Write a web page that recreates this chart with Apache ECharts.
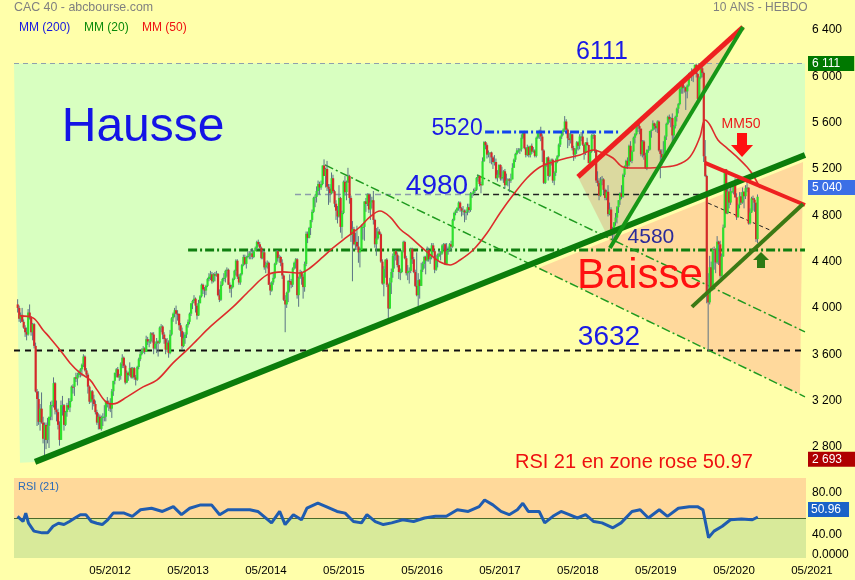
<!DOCTYPE html>
<html><head><meta charset="utf-8">
<script src="https://cdn.jsdelivr.net/npm/echarts@6/dist/echarts.min.js"></script>
<style>html,body{margin:0;padding:0;background:#FFFFAA;}#c{width:855px;height:580px;}</style>
</head><body><div id="c"></div>
<script>
// ---------- DATA ----------
const firstWeek = '2011-05-09';
// weekly candles [open, high, low, close]
const y2011 = [[4030,4075,3960,4000],[4000,4020,3880,3906],[3906,3960,3870,3940],[3940,4000,3880,3880],[3880,3900,3820,3830],[3830,3850,3750,3790],[3790,3830,3720,3770],[3770,3990,3760,3960],[3960,4030,3900,3920],[3920,3930,3760,3790],[3790,3870,3720,3860],[3860,3870,3650,3672],[3672,3700,3270,3278],[3278,3300,2980,3213],[3213,3280,2990,3016],[3016,3170,2940,3130],[3130,3270,3000,3010],[3010,3060,2830,2870],[2870,3010,2693,2990],[2990,3010,2780,2860],[2860,3050,2830,2982],[2982,3060,2790,3060],[3060,3190,3030,3160],[3160,3200,3030,3160],[3160,3400,3140,3350],[3350,3360,3080,3120],[3120,3200,3020,3100],[3100,3130,2950,2990],[2990,3020,2810,2860],[2860,3200,2860,3160],[3160,3240,3070,3160],[3160,3170,2940,2990],[2990,3110,2980,3100],[3100,3180,3060,3160]];
const y2012 = [[3160,3220,3120,3140],[3140,3220,3100,3196],[3196,3330,3190,3320],[3320,3340,3260,3318],[3318,3400,3240,3400],[3400,3440,3360,3390],[3390,3440,3330,3420],[3420,3460,3400,3450],[3450,3480,3400,3470],[3470,3520,3410,3510],[3510,3600,3490,3580],[3580,3590,3450,3460],[3460,3480,3400,3424],[3424,3440,3260,3320],[3320,3330,3170,3190],[3190,3290,3180,3280],[3280,3290,3120,3210],[3210,3250,3150,3170],[3170,3200,3080,3100],[3100,3120,2990,3010],[3010,3090,2950,3060],[3060,3080,2950,2955],[2955,3070,2940,3050],[3050,3090,2980,3060],[3060,3160,3020,3060],[3060,3200,3020,3197],[3197,3230,3140,3170],[3170,3200,3110,3180],[3180,3220,3100,3130],[3130,3300,3050,3280],[3280,3370,3240,3370],[3370,3440,3340,3440],[3440,3480,3400,3470],[3470,3490,3400,3400],[3400,3430,3370,3414],[3414,3530,3380,3520],[3520,3600,3480,3570],[3570,3580,3480,3500],[3500,3510,3340,3355],[3355,3460,3350,3440],[3440,3450,3370,3420],[3420,3530,3410,3480],[3480,3490,3390,3400],[3400,3490,3390,3480],[3480,3490,3380,3400],[3400,3420,3330,3380],[3380,3500,3370,3490],[3490,3570,3470,3557],[3557,3620,3540,3600],[3600,3650,3590,3630],[3630,3670,3610,3650],[3650,3660,3600,3620],[3620,3760,3620,3730]];
const y2013 = [[3730,3750,3680,3710],[3710,3730,3660,3710],[3710,3790,3690,3780],[3780,3790,3700,3770],[3770,3790,3600,3650],[3650,3710,3640,3690],[3690,3740,3610,3710],[3710,3720,3580,3700],[3700,3840,3690,3830],[3830,3860,3790,3840],[3840,3850,3730,3770],[3770,3790,3690,3731],[3731,3740,3600,3640],[3640,3740,3620,3700],[3700,3720,3570,3610],[3610,3810,3600,3770],[3770,3920,3760,3910],[3910,3960,3880,3950],[3950,4000,3920,3980],[3980,4020,3860,3950],[3950,3980,3890,3949],[3949,3950,3810,3850],[3850,3870,3750,3800],[3800,3830,3640,3670],[3670,3790,3660,3739],[3739,3790,3690,3770],[3770,3860,3740,3850],[3850,3900,3830,3880],[3880,3960,3860,3950],[3950,4040,3930,4040],[4040,4070,3990,4060],[4060,4110,4040,4080],[4080,4090,3960,4020],[4020,4040,3900,3934],[3934,4070,3930,4040],[4040,4110,4040,4100],[4100,4210,4090,4200],[4200,4210,4120,4160],[4160,4180,4090,4150],[4150,4200,4110,4190],[4190,4260,4180,4250],[4250,4300,4230,4270],[4270,4320,4240,4290],[4290,4310,4210,4230],[4230,4300,4220,4290],[4290,4310,4230,4280],[4280,4320,4270,4295],[4295,4300,4100,4110],[4110,4160,4050,4070],[4070,4230,4060,4200],[4200,4260,4190,4250],[4250,4300,4230,4260]];
const y2014 = [[4260,4330,4220,4320],[4320,4350,4270,4330],[4330,4340,4200,4200],[4200,4220,4130,4166],[4166,4200,4090,4180],[4180,4260,4170,4250],[4250,4330,4240,4320],[4320,4420,4280,4408],[4408,4420,4250,4270],[4270,4290,4200,4220],[4220,4300,4200,4290],[4290,4380,4280,4370],[4370,4460,4360,4440],[4440,4460,4370,4380],[4380,4450,4340,4440],[4440,4490,4430,4450],[4450,4490,4420,4470],[4470,4510,4420,4470],[4470,4510,4420,4440],[4440,4500,4430,4490],[4490,4530,4490,4519],[4519,4580,4500,4570],[4570,4590,4530,4550],[4550,4570,4510,4520],[4520,4530,4420,4430],[4430,4500,4420,4480],[4480,4490,4330,4350],[4350,4400,4300,4370],[4370,4410,4340,4390],[4390,4400,4200,4200],[4200,4220,4110,4150],[4150,4230,4140,4220],[4220,4300,4200,4260],[4260,4390,4250,4381],[4381,4500,4370,4490],[4490,4500,4400,4430],[4430,4460,4390,4440],[4440,4450,4360,4390],[4390,4420,4250,4280],[4280,4290,4060,4070],[4070,4110,3790,4030],[4030,4140,4000,4130],[4130,4240,4050,4233],[4233,4290,4140,4230],[4230,4250,4170,4200],[4200,4350,4180,4340],[4340,4400,4330,4390],[4390,4430,4340,4420],[4420,4430,4080,4110],[4110,4270,4010,4260],[4260,4330,4250,4310],[4310,4320,4200,4270]];
const y2015 = [[4270,4290,4080,4180],[4180,4400,4140,4380],[4380,4660,4360,4640],[4640,4660,4560,4605],[4605,4700,4600,4690],[4690,4760,4630,4760],[4760,4850,4740,4830],[4830,4960,4820,4951],[4951,4980,4870,4960],[4960,5050,4910,5010],[5010,5100,4980,5070],[5070,5090,4980,5040],[5040,5100,5020,5070],[5070,5230,5060,5230],[5230,5283,5140,5140],[5140,5210,5040,5200],[5200,5270,5010,5046],[5046,5070,4890,5030],[5030,5070,4910,4990],[4990,5170,4980,5120],[5120,5150,4990,5008],[5008,5020,4870,4900],[4900,4930,4760,4840],[4840,4880,4730,4790],[4790,5060,4780,4950],[4950,4960,4650,4700],[4700,4840,4600,4820],[4820,5100,4810,5090],[5090,5140,4970,5000],[5000,5100,4930,5083],[5083,5210,5080,5140],[5140,5150,4900,4950],[4950,4970,4570,4630],[4630,4750,4230,4680],[4680,4700,4540,4550],[4550,4650,4500,4570],[4570,4710,4500,4530],[4530,4620,4390,4480],[4480,4520,4350,4500],[4500,4720,4500,4700],[4700,4720,4590,4700],[4700,4920,4580,4920],[4920,4950,4830,4898],[4898,4990,4880,4980],[4980,4990,4820,4850],[4850,4980,4760,4910],[4910,4960,4860,4930],[4930,5010,4720,4760],[4760,4770,4520,4550],[4550,4690,4450,4600],[4600,4700,4590,4660],[4660,4680,4630,4637]];
const y2016 = [[4637,4650,4390,4400],[4400,4420,4200,4210],[4210,4360,4100,4340],[4340,4420,4260,4417],[4417,4430,4180,4200],[4200,4210,3890,3995],[3995,4260,3990,4220],[4220,4340,4120,4310],[4310,4470,4260,4450],[4450,4490,4340,4490],[4490,4500,4410,4460],[4460,4480,4350,4370],[4370,4450,4250,4310],[4310,4340,4240,4310],[4310,4500,4300,4490],[4490,4580,4480,4570],[4570,4580,4420,4429],[4429,4450,4280,4300],[4300,4370,4240,4320],[4320,4350,4210,4320],[4320,4520,4300,4510],[4510,4520,4380,4420],[4420,4440,4300,4310],[4310,4330,4180,4190],[4190,4480,4100,4110],[4110,4300,3960,4240],[4240,4250,4080,4190],[4190,4390,4190,4330],[4330,4400,4310,4380],[4380,4450,4340,4440],[4440,4450,4290,4410],[4410,4530,4400,4500],[4500,4520,4400,4420],[4420,4450,4380,4440],[4440,4560,4420,4540],[4540,4560,4480,4490],[4490,4500,4300,4330],[4330,4460,4320,4410],[4410,4470,4350,4448],[4448,4500,4440,4470],[4470,4490,4410,4470],[4470,4550,4460,4540],[4540,4560,4500,4550],[4550,4560,4370,4380],[4380,4560,4370,4490],[4490,4530,4460,4500],[4500,4560,4490,4550],[4550,4580,4490,4530],[4530,4770,4520,4760],[4760,4830,4750,4820],[4820,4850,4800,4840],[4840,4870,4820,4862]];
const y2017 = [[4862,4920,4840,4910],[4910,4920,4830,4860],[4860,4870,4790,4840],[4840,4880,4800,4840],[4840,4850,4740,4825],[4825,4850,4760,4830],[4830,4900,4800,4870],[4870,4900,4820,4845],[4845,5000,4830,4990],[4990,5000,4950,4990],[4990,5030,4970,5010],[5010,5040,4990,5020],[5020,5130,5010,5123],[5123,5150,5090,5140],[5140,5140,5050,5070],[5070,5090,4990,5059],[5059,5300,5059,5267],[5267,5440,5260,5432],[5432,5440,5370,5406],[5406,5420,5290,5324],[5324,5360,5300,5336],[5336,5340,5250,5343],[5343,5350,5240,5300],[5300,5310,5200,5260],[5260,5320,5230,5260],[5260,5290,5110,5121],[5121,5190,5090,5150],[5150,5240,5130,5235],[5235,5240,5100,5117],[5117,5220,5100,5131],[5131,5190,5080,5180],[5180,5200,5030,5060],[5060,5160,5060,5100],[5100,5120,5050,5110],[5110,5120,5000,5100],[5100,5160,5080,5110],[5110,5250,5110,5210],[5210,5290,5210,5280],[5280,5340,5260,5330],[5330,5380,5320,5360],[5360,5380,5340,5360],[5360,5380,5330,5370],[5370,5500,5350,5470],[5470,5520,5460,5510],[5510,5530,5370,5380],[5380,5390,5300,5320],[5320,5410,5310,5390],[5390,5400,5300,5320],[5320,5400,5300,5400],[5400,5420,5330,5350],[5350,5390,5340,5360],[5360,5370,5300,5313]];
const y2018 = [[5313,5480,5300,5470],[5470,5530,5460,5520],[5520,5540,5460,5530],[5530,5565,5440,5480],[5480,5500,5260,5360],[5360,5370,5070,5080],[5080,5250,5070,5240],[5240,5300,5220,5300],[5300,5310,5100,5140],[5140,5280,5130,5270],[5270,5290,5230,5280],[5280,5290,5080,5100],[5100,5180,5060,5167],[5167,5290,5140,5260],[5260,5320,5250,5310],[5310,5420,5300,5410],[5410,5490,5390,5480],[5480,5530,5460,5520],[5520,5550,5490,5540],[5540,5657,5520,5610],[5610,5630,5500,5540],[5540,5550,5380,5465],[5465,5510,5400,5450],[5450,5520,5420,5500],[5500,5500,5360,5380],[5380,5400,5270,5324],[5324,5380,5290,5370],[5370,5440,5330,5430],[5430,5440,5360,5400],[5400,5500,5370,5480],[5480,5520,5440,5480],[5480,5520,5400,5410],[5410,5420,5280,5340],[5340,5430,5320,5430],[5430,5470,5400,5407],[5407,5410,5250,5250],[5250,5360,5240,5350],[5350,5500,5340,5490],[5490,5520,5460,5493],[5493,5500,5340,5360],[5360,5370,5080,5100],[5100,5180,5050,5080],[5080,5120,4930,4970],[4970,5130,4960,5100],[5100,5140,5060,5110],[5110,5120,4980,5020],[5020,5030,4930,4950],[4950,5020,4930,5003],[5003,5060,4790,4810],[4810,4910,4800,4850],[4850,4870,4620,4640],[4640,4700,4555,4680],[4680,4740,4600,4740]];
const y2019 = [[4740,4820,4710,4780],[4780,4880,4730,4870],[4870,4930,4820,4930],[4930,5000,4890,4990],[4990,5060,4940,4960],[4960,5160,4950,5150],[5150,5230,5130,5220],[5220,5280,5200,5270],[5270,5300,5200,5230],[5230,5410,5220,5400],[5400,5440,5260,5270],[5270,5360,5250,5351],[5351,5480,5350,5470],[5470,5510,5420,5500],[5500,5580,5490,5580],[5580,5590,5520,5570],[5570,5590,5500,5548],[5548,5550,5310,5327],[5327,5450,5300,5438],[5438,5450,5280,5316],[5316,5340,5200,5208],[5208,5370,5190,5364],[5364,5400,5340,5367],[5367,5530,5360,5528],[5528,5540,5470,5539],[5539,5620,5530,5594],[5594,5600,5540,5572],[5572,5590,5520,5552],[5552,5620,5510,5610],[5610,5620,5350,5360],[5360,5370,5120,5330],[5330,5370,5230,5300],[5300,5440,5290,5330],[5330,5490,5320,5480],[5480,5600,5450,5590],[5590,5660,5580,5650],[5650,5670,5600,5630],[5630,5650,5560,5640],[5640,5680,5410,5490],[5490,5580,5420,5570],[5570,5660,5550,5650],[5650,5730,5610,5720],[5720,5770,5680,5760],[5760,5900,5750,5890],[5890,5950,5850,5940],[5940,5950,5850,5900],[5900,5920,5860,5905],[5905,5910,5710,5870],[5870,5930,5810,5920],[5920,6030,5910,6020],[6020,6040,6000,6030],[6030,6070,5960,6040]];
const y2020 = [[6040,6060,5950,6040],[6040,6100,6020,6100],[6100,6110,5990,6020],[6020,6030,5800,5806],[5806,6000,5790,5990],[5990,6070,5980,6070],[6070,6111,5990,6030],[6030,6040,5260,5310],[5310,5450,5130,5140],[5140,5150,4040,4118],[4118,4300,3632,4048],[4048,4450,4030,4351],[4351,4400,4150,4154],[4154,4520,4150,4507],[4507,4530,4330,4499],[4499,4510,4300,4393],[4393,4620,4380,4572],[4572,4580,4370,4549],[4549,4580,4260,4277],[4277,4470,4270,4445],[4445,4720,4440,4695],[4695,5200,4690,5197],[5197,5200,4810,4816],[4816,5080,4810,5005],[5005,5030,4860,4910],[4910,5050,4890,5007],[5007,5080,4990,5007],[5007,5090,4980,5069],[5069,5120,4950,4956],[4956,4990,4760,4783],[4783,4900,4780,4889],[4889,5000,4860,4963],[4963,5000,4890,4910],[4910,5040,4900,5002],[5002,5010,4860,4965],[4965,5060,4940,5034],[5034,5120,5000,5039],[5039,5040,4720,4730],[4730,4860,4720,4824],[4824,4960,4820,4946],[4946,4970,4840,4935],[4935,4950,4830,4909],[4909,4910,4570,4594],[4594,4980,4560,4960]];

// MM50 curve (decimal year, value)
const mmYr = [2011.381,2011.548,2011.676,2011.766,2011.894,2012.022,2012.150,2012.279,2012.368,2012.497,2012.574,2012.753,2012.958,2013.138,2013.343,2013.522,2013.650,2013.817,2014.112,2014.330,2014.548,2014.753,2014.971,2015.099,2015.266,2015.394,2015.574,2015.740,2015.868,2015.997,2016.125,2016.253,2016.381,2016.599,2016.766,2016.894,2017.022,2017.189,2017.368,2017.535,2017.702,2017.881,2018.048,2018.215,2018.394,2018.561,2018.728,2018.856,2018.984,2019.112,2019.240,2019.458,2019.625,2019.804,2019.971,2020.099,2020.163,2020.228,2020.330,2020.446,2020.574,2020.702,2020.779,2020.869];
const mmVal = [3931,3914,3810,3741,3637,3525,3439,3378,3292,3180,3171,3232,3318,3378,3525,3637,3724,3836,4009,4155,4285,4311,4302,4345,4440,4518,4613,4699,4786,4837,4786,4682,4613,4483,4397,4371,4414,4500,4647,4820,4975,5122,5217,5260,5295,5321,5364,5338,5295,5217,5208,5208,5217,5234,5304,5476,5623,5580,5450,5381,5304,5217,5148,5036];

// RSI(21)
const rsiYr = [2011.35,2011.42,2011.455,2011.49,2011.56,2011.665,2011.735,2011.805,2011.875,2011.945,2012.015,2012.085,2012.155,2012.225,2012.295,2012.365,2012.435,2012.505,2012.575,2012.715,2012.82,2012.925,2013.066,2013.206,2013.346,2013.45,2013.556,2013.696,2013.836,2013.94,2014.046,2014.186,2014.326,2014.43,2014.606,2014.71,2014.78,2014.886,2014.99,2015.06,2015.2,2015.306,2015.446,2015.55,2015.657,2015.76,2015.83,2015.937,2016.04,2016.147,2016.287,2016.427,2016.567,2016.707,2016.847,2016.987,2017.127,2017.267,2017.337,2017.443,2017.547,2017.652,2017.757,2017.827,2017.897,2018.037,2018.108,2018.213,2018.318,2018.423,2018.528,2018.633,2018.738,2018.843,2018.983,2019.088,2019.228,2019.333,2019.438,2019.578,2019.683,2019.823,2019.963,2020.068,2020.138,2020.21,2020.28,2020.385,2020.49,2020.63,2020.77,2020.84];
const rsiVal = [51.6,46.6,54.7,45.0,37.4,35.7,35.7,42.1,45.0,43.7,46.6,50,53.2,53.2,46.6,45.0,43.7,48.3,54.7,54.7,51.6,57.9,59.4,56.3,60.9,53.2,59.4,62.6,62.6,53.2,57.9,57.9,57.9,56.3,45.3,56.3,43.7,53.2,48.3,59.4,64.2,60.9,56.3,54.7,46.6,45.3,53.2,46.6,43.7,45.3,48.3,46.6,50,51.6,51.6,57.9,56.3,60.9,67.3,62.6,56.3,53.2,57.9,64.2,56.3,56.3,45.3,51.6,56.3,53.2,50,53.2,46.6,45.3,40.6,45.3,56.3,57.9,50,57.9,51.6,59.4,60.9,60.9,57.9,31.1,37.4,42.1,48.3,49.1,48.3,50.96];

// axis ticks and labelled boxes
const priceTicks = [2800,3200,3600,4000,4400,4800,5200,5600,6000,6400];
const boxValues = [6111,5040,2693];
const boxTexts = ['6 111','5 040','2 693'];
const rsiTicks = [80,40];
const rsiMid = 50;
const rsiLast = 50.96;
const xTickYears = [2012,2013,2014,2015,2016,2017,2018,2019,2020,2021];

// annotation geometry in (decimal year, price)
const zoneUp = [[2011.304,6111],[2021.445,6111],[2021.445,5321],[2011.574,2670],[2011.381,2662]];
const zoneDown = [[2018.031,4344],[2021.42,5261],[2021.38,3257]];
const wedgeZone = [[2018.535,5131],[2020.651,6426],[2018.971,4544]];
const trendUp = [[2011.574,2670],[2021.445,5321]];
const wedgeTop = [[2018.535,5131],[2020.651,6426]];
const wedgeBottom = [[2018.945,4518],[2020.651,6426]];
const crashTop = [[2020.163,5252],[2021.445,4889]];
const crashBottom = [[2019.997,4009],[2021.42,4898]];
const crashMid = [[2020.202,4906],[2021.022,4665]];
const channelA = [[2015.292,5235],[2021.445,3232]];
const channelB = [[2017.24,5148],[2021.445,3793]];
const level4500 = [[2013.535,4500],[2021.445,4500]];
const level5520 = [[2017.343,5520],[2019.073,5520]];
const level4980a = [[2014.907,4980],[2017.189,4980]];
const level4980b = [[2017.189,4980],[2020.138,4980]];
const level3632 = [[2011.304,3632],[2021.445,3632]];
const level6111 = [[2011.304,6111],[2021.458,6111]];

const noteText = ['Hausse','Baisse','6111','3632','4980','5520','4580','MM50','RSI 21 en zone rose 50.97'];
const noteAt = [[2012.958,5554],[2019.33,4268],[2018.843,6210],[2018.933,3750],[2016.727,5053],[2016.984,5545],[2019.471,4613],[2020.625,5588],[2019.253,2662]];
const arrowAt = [[2020.638,5407],[2020.881,4414]];

// ---------- CHART ----------
const FONT = '"Liberation Sans", Arial, sans-serif';
function yr(d){const y=Math.floor(d);const a=Date.UTC(y,0,1),b=Date.UTC(y+1,0,1);return a+(d-y)*(b-a);}
const XMIN = yr(2011.304), XMAX = yr(2021.458);
const RSI_MIN = 11.54, RSI_MAX = 88.46;
const startTs = Date.parse(firstWeek+'T00:00:00Z');
const weeks = [].concat(y2011,y2012,y2013,y2014,y2015,y2016,y2017,y2018,y2019,y2020);
const candles = weeks.map((d,i)=>[startTs+i*7*864e5,d[0],d[1],d[2],d[3]]);
const fmtK = v=>String(v).replace(/\B(?=(\d{3})+(?!\d))/g,' ');
const P = arr=>arr.map(q=>[yr(q[0]),q[1]]);

function poly(pts, fill, z){
  const d = P(pts);
  return {type:'custom', xAxisIndex:0, yAxisIndex:0, z, silent:true, clip:false, data:[d[0]],
    renderItem:(p,api)=>({type:'polygon', shape:{points:d.map(q=>api.coord(q))}, style:{fill}})};
}
function seg(pts, color, width, type, z){
  return {type:'line', xAxisIndex:0, yAxisIndex:0, z, silent:true, data:P(pts), showSymbol:false, symbol:'none',
    lineStyle:{color, width, type:type||'solid'}};
}
const dashDot = [9,3,2,3];
const noteStyle = [
  {size:48,color:'#1414e6'},{size:42,color:'#ff1010'},{size:25,color:'#1a1ae6'},{size:28,color:'#1a1ae6'},
  {size:28,color:'#1a1ae6'},{size:23,color:'#1a1ae6'},{size:21,color:'#2a2a9a'},{size:14,color:'#ee1a1a'},{size:20,color:'#ee1010'}];
const boxColors = ['#007800','#3b6fe6','#b00000'];

const series = [
  poly(zoneUp,'#D8FFC0',1),
  poly(zoneDown,'#FFD99C',1),
  poly(wedgeZone,'rgba(225,165,115,0.42)',2),
  seg(level6111,'#8fa0ad',1.2,[5,4],3),
  seg(level3632,'#111',2,[6,5],3),
  seg(level4980a,'#8c9cab',1.5,[6,4],3),
  seg(level4980b,'#222',1.5,[6,4],3),
  seg(level4500,'#0f7f0f',3,dashDot,3),
  seg(channelA,'#1f9a1f',1.5,dashDot,3),
  seg(channelB,'#1f9a1f',1.5,dashDot,3),
  seg(crashMid,'#222',1,[4,3],3),
  {type:'custom', xAxisIndex:0, yAxisIndex:0, z:4, silent:true, clip:true, data:candles, encode:{x:0,y:[1,2,3,4]},
   renderItem:(p,api)=>{
     const t=api.value(0),o=api.value(1),h=api.value(2),l=api.value(3),c=api.value(4);
     const pO=api.coord([t,o]),pC=api.coord([t,c]),pH=api.coord([t,h]),pL=api.coord([t,l]);
     const x=pO[0], top=Math.min(pO[1],pC[1]), bot=Math.max(pO[1],pC[1]);
     return {type:'group',children:[
       {type:'line',shape:{x1:x,y1:pH[1],x2:x,y2:pL[1]},style:{stroke:'#5b7384',lineWidth:1}},
       {type:'rect',shape:{x:x-1,y:top,width:2.2,height:Math.max(1,bot-top)},style:{fill:c>=o?'#2ee02e':'#d42a2a'}}
     ]};
   }},
  {type:'line', xAxisIndex:0, yAxisIndex:0, z:5, silent:true, data:mmYr.map((y,i)=>[yr(y),mmVal[i]]), showSymbol:false, smooth:0.35,
   lineStyle:{color:'#dd2c2c', width:1.6}},
  seg(level5520,'#1144ee',3,dashDot,6),
  seg(trendUp,'#0b7d0b',6,'solid',6),
  seg(wedgeTop,'#ee2020',5,'solid',6),
  seg(wedgeBottom,'#169616',4,'solid',6),
  seg(crashTop,'#ee2020',4,'solid',6),
  seg(crashBottom,'#3b7a14',4,'solid',6),
  {type:'custom', xAxisIndex:0, yAxisIndex:0, z:7, silent:true, clip:false, data:P(noteAt),
   renderItem:(p,api)=>{const s=noteStyle[p.dataIndex]; const pt=api.coord([api.value(0),api.value(1)]);
     return {type:'text', x:pt[0], y:pt[1], style:{text:noteText[p.dataIndex], fill:s.color, font:s.size+'px '+FONT, align:'center', verticalAlign:'middle'}};}},
  {type:'custom', xAxisIndex:0, yAxisIndex:0, z:7, silent:true, clip:false, data:P(arrowAt),
   renderItem:(p,api)=>{const pt=api.coord([api.value(0),api.value(1)]); const x=pt[0], y=pt[1];
     if(p.dataIndex===0){return {type:'polygon',shape:{points:[[x-5,y-12],[x+5,y-12],[x+5,y],[x+11,y],[x,y+12],[x-11,y],[x-5,y]]},style:{fill:'#ff1010'}};}
     return {type:'polygon',shape:{points:[[x-4,y+8],[x+4,y+8],[x+4,y],[x+8,y],[x,y-8],[x-8,y],[x-4,y]]},style:{fill:'#2d7a14'}};}},
  {type:'custom', xAxisIndex:0, yAxisIndex:0, z:8, silent:true, clip:false, data:boxValues.map(v=>[XMAX,v]),
   renderItem:(p,api)=>{const pt=api.coord([api.value(0),api.value(1)]);
     return {type:'text', x:pt[0]+2, y:pt[1], style:{text:boxTexts[p.dataIndex], fill:'#fff', font:'12px '+FONT, backgroundColor:boxColors[p.dataIndex], padding:[2,14,1,4], align:'left', verticalAlign:'middle'}};}},
  // RSI
  {type:'line', xAxisIndex:1, yAxisIndex:1, z:5, silent:true, data:rsiYr.map((y,i)=>[yr(y),rsiVal[i]]), showSymbol:false,
   lineStyle:{color:'#1f5cb0', width:3},
   markArea:{silent:true, itemStyle:{opacity:1}, data:[[{yAxis:rsiMid,itemStyle:{color:'#FFD99A'}},{yAxis:RSI_MAX}],[{yAxis:RSI_MIN,itemStyle:{color:'#D8EA9A'}},{yAxis:rsiMid}]]},
   markLine:{silent:true, symbol:'none', label:{show:false}, lineStyle:{color:'#4a6a2a',width:1,type:'solid'}, data:[{yAxis:rsiMid}]}},
  {type:'custom', xAxisIndex:1, yAxisIndex:1, z:8, silent:true, clip:false, data:[[XMAX,rsiLast]],
   renderItem:(p,api)=>{const pt=api.coord([api.value(0),api.value(1)]);
     return {type:'text', x:pt[0]+2, y:pt[1], style:{text:rsiLast.toFixed(2), fill:'#fff', font:'12px '+FONT, backgroundColor:'#1a62c8', padding:[2,8,1,3], align:'left', verticalAlign:'bottom'}};}}
];

const chart = echarts.init(document.getElementById('c'), null, {renderer:'canvas'});
chart.setOption({
  animation:false,
  backgroundColor:'#FFFFAA',
  textStyle:{fontFamily:FONT},
  grid:[{left:14,right:49,top:15,height:455},{left:14,right:49,top:478,height:80}],
  xAxis:[
    {type:'value', gridIndex:0, min:XMIN, max:XMAX, axisLine:{show:false}, axisTick:{show:false}, axisLabel:{show:false}, splitLine:{show:false}},
    {type:'value', gridIndex:1, min:XMIN, max:XMAX, axisLine:{show:false}, axisTick:{show:false}, splitLine:{show:false},
     axisLabel:{customValues:xTickYears.map(y=>Date.UTC(y,4,1)), align:'center', padding:[0,0,0,32], margin:7, color:'#000', fontSize:11.5, fontFamily:FONT,
       formatter:v=>{const d=new Date(v);return String(d.getUTCMonth()+1).padStart(2,'0')+'/'+d.getUTCFullYear();}}}
  ],
  yAxis:[
    {type:'value', gridIndex:0, position:'right', min:2600, max:6530, axisLine:{show:false}, axisTick:{show:false}, splitLine:{show:false},
     axisLabel:{customValues:priceTicks, formatter:v=>fmtK(v), color:'#000', fontSize:12, fontFamily:FONT, margin:6}},
    {type:'value', gridIndex:1, position:'right', min:RSI_MIN, max:RSI_MAX, axisLine:{show:false}, axisTick:{show:false}, splitLine:{show:false},
     axisLabel:{customValues:rsiTicks.concat([20.2]), verticalAlign:'top', formatter:v=>v<30?'0.0000':v.toFixed(2), color:'#000', fontSize:12, fontFamily:FONT, margin:6}}
  ],
  graphic:[
    {type:'text', left:14, top:2, style:{text:'CAC 40 - abcbourse.com', fill:'#808080', font:'12.4px '+FONT}},
    {type:'text', left:19, top:22, style:{text:'MM (200)', fill:'#1515e0', font:'12px '+FONT}},
    {type:'text', left:84, top:22, style:{text:'MM (20)', fill:'#0a8a0a', font:'12px '+FONT}},
    {type:'text', left:142, top:22, style:{text:'MM (50)', fill:'#ee1111', font:'12px '+FONT}},
    {type:'text', left:713, top:2, style:{text:'10 ANS - HEBDO', fill:'#808080', font:'12px '+FONT}},
    {type:'text', left:18, top:481, z:100, style:{text:'RSI (21)', fill:'#2a6ab8', font:'11px '+FONT}}
  ],
  series
});
</script></body></html>
